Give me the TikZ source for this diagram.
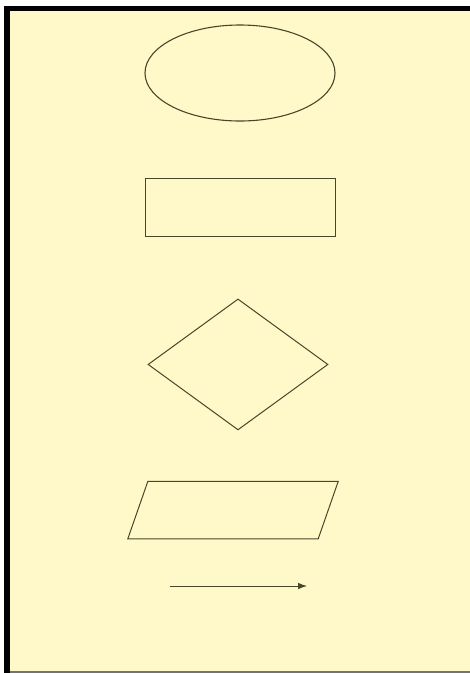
\documentclass[tikz,border=0pt]{standalone}
\usepackage{xcolor}
\usepackage{tikz}
\usetikzlibrary{shapes.geometric, arrows.meta, positioning}

\definecolor{paper}{RGB}{255,249,202}
\definecolor{ink}{RGB}{72,70,40}

\begin{document}
\begin{tikzpicture}[x=1pt, y=-1pt, node distance=50pt]
\tikzstyle{startstop}=[ellipse, draw=ink, line width=1.1pt, minimum width=190pt, minimum height=96pt, inner sep=0pt]
\tikzstyle{process}=[rectangle, draw=ink, line width=0.9pt, minimum width=190pt, minimum height=58pt, inner sep=0pt]
\tikzstyle{decision}=[diamond, draw=ink, line width=1pt, minimum width=180pt, minimum height=131pt, inner sep=0pt]
\tikzstyle{io}=[rectangle, minimum width=190pt, minimum height=57pt, inner sep=0pt]
\tikzstyle{ioline}=[draw=ink, line width=1pt, line join=miter]
\tikzstyle{arrow}=[-{Latex[length=9pt, width=6.5pt]}, draw=ink, fill=ink, line width=0.8pt]

\useasboundingbox (0,0) rectangle (470,673);
% sheet
\fill[white] (0,0) rectangle (470,673);
\fill[paper] (7,8.5) rectangle (470,673);
\draw[black!55, line width=2pt] (7,672) -- (470,672);
\draw[black, line width=5.5pt] (7,673) -- (7,8.5) -- (470,8.5);

\node[startstop] (start) at (240,73) {};
\node[process, below=56pt of start] (process) {};
\node[decision, below=62pt of process, xshift=-2pt] (decision) {};
\node[io, below=51pt of decision, xshift=-5pt] (data) {};
\coordinate (flowin) at (170,586);
\coordinate (flowout) at (307,586);

% slanted sides of the input/output box
\draw[ioline] ([xshift=10pt]data.north west) -- ([xshift=10pt]data.north east)
  -- ([xshift=-10pt]data.south east) -- ([xshift=-10pt]data.south west) -- cycle;
\draw[arrow] (flowin) -- (flowout);

\end{tikzpicture}
\end{document}
